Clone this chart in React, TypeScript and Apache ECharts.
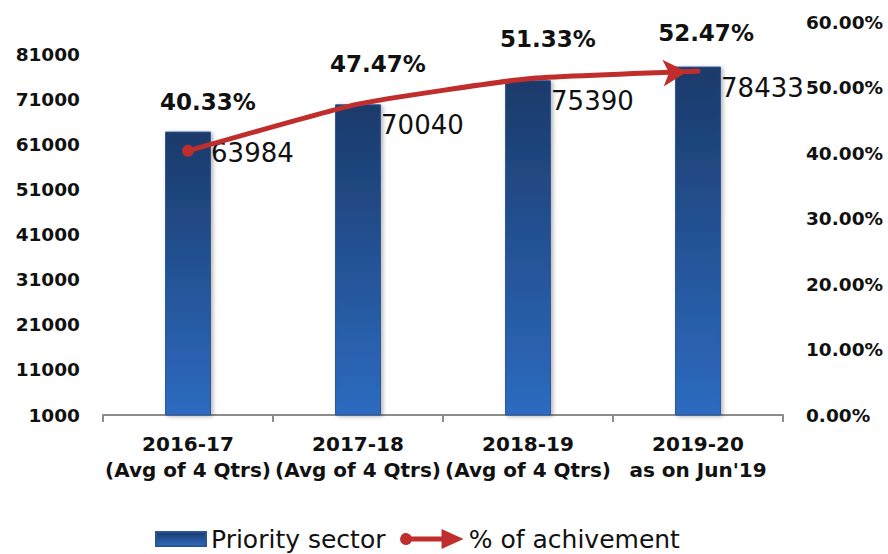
import React, { useEffect, useRef } from "react";
import * as echarts from "echarts";

const categories = [
  "2016-17\n(Avg of 4 Qtrs)",
  "2017-18\n(Avg of 4 Qtrs)",
  "2018-19\n(Avg of 4 Qtrs)",
  "2019-20\nas on Jun'19",
];
const prioritySector = [63984, 70040, 75390, 78433];
const achievementPct = [40.33, 47.47, 51.33, 52.47];
const leftAxisMin = 1000;
const leftAxisMax = 88333;
const leftAxisInterval = 10000;
const rightAxisMax = 60;
const rightAxisInterval = 10;

const RED = "#BF2E2C";
const LINE_ICON =
  "path://M12 7.5 L42 7.5 L42 0 L64 10 L42 20 L42 12.5 L12 12.5 A6.04 6.04 0 1 1 12 7.5 Z";

export default function App() {
  const ref = useRef<HTMLDivElement>(null);
  useEffect(() => {
    if (!ref.current) return;
    const chart = echarts.init(ref.current, null, { renderer: "svg" });
    const last = achievementPct.length - 1;
    const barGradient = new echarts.graphic.LinearGradient(0, 0, 0, 1, [
      { offset: 0, color: "#1B3A6A" },
      { offset: 1, color: "#2D6BC0" },
    ]);
    const legendText = { fontFamily: "DejaVu Sans", fontSize: 25, color: "#111", lineHeight: 28 };
    chart.setOption({
      animation: false,
      backgroundColor: "#ffffff",
      grid: { left: 103, right: 105, top: 22, bottom: 139 },
      legend: [
        {
          top: 520,
          left: 150,
          padding: 5,
          itemWidth: 50,
          itemHeight: 14,
          itemGap: 5,
          textStyle: legendText,
          data: [{ name: "Priority sector", icon: "rect" }],
        },
        {
          top: 520,
          left: 395,
          padding: 5,
          itemWidth: 64,
          itemHeight: 20,
          textStyle: legendText,
          data: [{ name: "% of achivement", icon: LINE_ICON, itemStyle: { color: RED } }],
        },
      ],
      xAxis: {
        type: "category",
        data: categories,
        axisLine: { lineStyle: { color: "#8c8c8c", width: 2 } },
        axisTick: { show: true, length: 7, lineStyle: { color: "#8c8c8c", width: 2 } },
        axisLabel: {
          interval: 0,
          margin: 16,
          fontFamily: "DejaVu Sans",
          fontWeight: "bold",
          fontSize: 20,
          lineHeight: 26,
          color: "#111",
        },
      },
      yAxis: [
        {
          type: "value",
          min: leftAxisMin,
          max: leftAxisMax,
          interval: leftAxisInterval,
          axisLine: { show: false },
          axisTick: { show: false },
          splitLine: { show: false },
          axisLabel: {
            showMaxLabel: false,
            margin: 23,
            fontFamily: "DejaVu Sans",
            fontWeight: "bold",
            fontSize: 18.5,
            color: "#111",
            formatter: (v: number) => String(Math.round(v)),
          },
        },
        {
          type: "value",
          min: 0,
          max: rightAxisMax,
          interval: rightAxisInterval,
          position: "right",
          axisLine: { show: false },
          axisTick: { show: false },
          splitLine: { show: false },
          axisLabel: {
            margin: 23,
            fontFamily: "DejaVu Sans",
            fontWeight: "bold",
            fontSize: 18.5,
            color: "#111",
            formatter: (v: number) => v.toFixed(2) + "%",
          },
        },
      ],
      series: [
        {
          name: "Priority sector",
          type: "bar",
          yAxisIndex: 0,
          data: prioritySector,
          barWidth: "27%",
          itemStyle: {
            color: barGradient,
            borderColor: "#2a5595",
            borderWidth: 1,
            shadowBlur: 4,
            shadowOffsetX: 2,
            shadowOffsetY: 1,
            shadowColor: "rgba(0,0,0,0.3)",
          },
          label: {
            show: true,
            position: [46, 21],
            align: "left",
            verticalAlign: "middle",
            fontFamily: "DejaVu Sans",
            fontSize: 26,
            color: "#111",
          },
          z: 2,
        },
        {
          name: "% of achivement",
          type: "line",
          yAxisIndex: 1,
          smooth: 0.15,
          data: achievementPct.map((v, i) => ({
            value: v,
            symbol: i === last ? "arrow" : "circle",
            symbolSize: i === 0 ? 12 : i === last ? [20, 24] : 1,
            symbolRotate: i === last ? -87 : 0,
            symbolOffset: i === last ? [-11, 0.5] : [0, 0],
            label:
              i === 0
                ? { distance: 31 }
                : i === last
                ? { distance: 14, offset: [31, 0] }
                : {},
          })),
          showAllSymbol: true,
          lineStyle: { color: RED, width: 5, cap: "round" },
          itemStyle: { color: RED },
          label: {
            show: true,
            position: "top",
            distance: 28,
            offset: [20, 0],
            fontFamily: "DejaVu Sans",
            fontWeight: "bold",
            fontSize: 23,
            color: "#111",
            formatter: (p: any) => p.value.toFixed(2) + "%",
          },
          z: 5,
        },
      ],
    });
    return () => chart.dispose();
  }, []);
  return <div ref={ref} style={{ width: 888, height: 554, position: "fixed", left: 0, top: 0 }} />;
}
